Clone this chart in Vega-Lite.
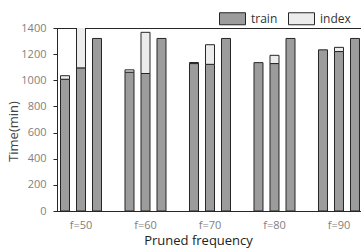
{
  "$schema": "https://vega.github.io/schema/vega-lite/v6.json",
  "width": 306,
  "height": 183,
  "autosize": {"type": "none"},
  "padding": {"left": 57, "top": 28, "right": 0, "bottom": 38},
  "background": "white",
  "config": {
    "font": "Open Sans",
    "view": {"stroke": "#262626", "strokeWidth": 1},
    "axis": {"grid": false, "domainColor": "#262626", "domainWidth": 1}
  },
  "data": {
    "values": [
      {"freq": "f=50", "bar": 1, "series": "train", "ord": 0, "time": 1008},
      {"freq": "f=50", "bar": 1, "series": "index", "ord": 1, "time": 27},
      {"freq": "f=50", "bar": 2, "series": "train", "ord": 0, "time": 1095},
      {"freq": "f=50", "bar": 2, "series": "index", "ord": 1, "time": 400},
      {"freq": "f=50", "bar": 3, "series": "train", "ord": 0, "time": 1320},
      {"freq": "f=60", "bar": 1, "series": "train", "ord": 0, "time": 1062},
      {"freq": "f=60", "bar": 1, "series": "index", "ord": 1, "time": 18},
      {"freq": "f=60", "bar": 2, "series": "train", "ord": 0, "time": 1052},
      {"freq": "f=60", "bar": 2, "series": "index", "ord": 1, "time": 315},
      {"freq": "f=60", "bar": 3, "series": "train", "ord": 0, "time": 1320},
      {"freq": "f=70", "bar": 1, "series": "train", "ord": 0, "time": 1128},
      {"freq": "f=70", "bar": 1, "series": "index", "ord": 1, "time": 8},
      {"freq": "f=70", "bar": 2, "series": "train", "ord": 0, "time": 1122},
      {"freq": "f=70", "bar": 2, "series": "index", "ord": 1, "time": 150},
      {"freq": "f=70", "bar": 3, "series": "train", "ord": 0, "time": 1320},
      {"freq": "f=80", "bar": 1, "series": "train", "ord": 0, "time": 1135},
      {"freq": "f=80", "bar": 2, "series": "train", "ord": 0, "time": 1128},
      {"freq": "f=80", "bar": 2, "series": "index", "ord": 1, "time": 63},
      {"freq": "f=80", "bar": 3, "series": "train", "ord": 0, "time": 1320},
      {"freq": "f=90", "bar": 1, "series": "train", "ord": 0, "time": 1233},
      {"freq": "f=90", "bar": 2, "series": "train", "ord": 0, "time": 1220},
      {"freq": "f=90", "bar": 2, "series": "index", "ord": 1, "time": 32},
      {"freq": "f=90", "bar": 3, "series": "train", "ord": 0, "time": 1320}
    ]
  },
  "mark": {"type": "bar", "clip": true, "stroke": "#262626", "strokeWidth": 1},
  "encoding": {
    "x": {
      "field": "freq",
      "type": "nominal",
      "sort": ["f=50", "f=60", "f=70", "f=80", "f=90"],
      "scale": {"paddingInner": 0.2558, "paddingOuter": 0},
      "axis": {
        "title": "Pruned frequency",
        "labelAngle": 0,
        "ticks": false,
        "tickSize": 0,
        "labelPadding": 8,
        "labelFontSize": 11,
        "labelColor": "#7f7f7f",
        "titleFontSize": 13,
        "titleFontWeight": "normal",
        "titleColor": "#222222",
        "titleX": 141,
        "titleY": 23,
        "titleBaseline": "top",
        "titleAlign": "center"
      }
    },
    "xOffset": {
      "field": "bar",
      "type": "ordinal",
      "scale": {"paddingInner": 0.4375, "paddingOuter": 0.21875}
    },
    "y": {
      "field": "time",
      "type": "quantitative",
      "stack": "zero",
      "scale": {"domain": [0, 1400], "nice": false},
      "axis": {
        "title": "Time(min)",
        "values": [0, 200, 400, 600, 800, 1000, 1200, 1400],
        "format": "d",
        "tickSize": 4,
        "tickColor": "#262626",
        "labelPadding": 7,
        "labelFontSize": 11,
        "labelColor": "#7f7f7f",
        "titleFontSize": 13,
        "titleFontWeight": "normal",
        "titleColor": "#444444",
        "titlePadding": 0,
        "titleY": 103
      }
    },
    "color": {
      "field": "series",
      "type": "nominal",
      "scale": {"domain": ["train", "index"], "range": ["#9c9c9c", "#ececec"]},
      "legend": {
        "title": null,
        "orient": "none",
        "direction": "horizontal",
        "legendX": 162,
        "legendY": -23,
        "padding": 0,
        "symbolType": "M-1,-0.4615H1V0.4615H-1Z",
        "symbolSize": 676,
        "symbolStrokeColor": "#262626",
        "symbolStrokeWidth": 1,
        "symbolOpacity": 1,
        "labelFontSize": 12,
        "labelColor": "#333333",
        "labelOffset": 5,
        "columnPadding": 8
      }
    },
    "order": {"field": "ord", "type": "quantitative"}
  }
}
